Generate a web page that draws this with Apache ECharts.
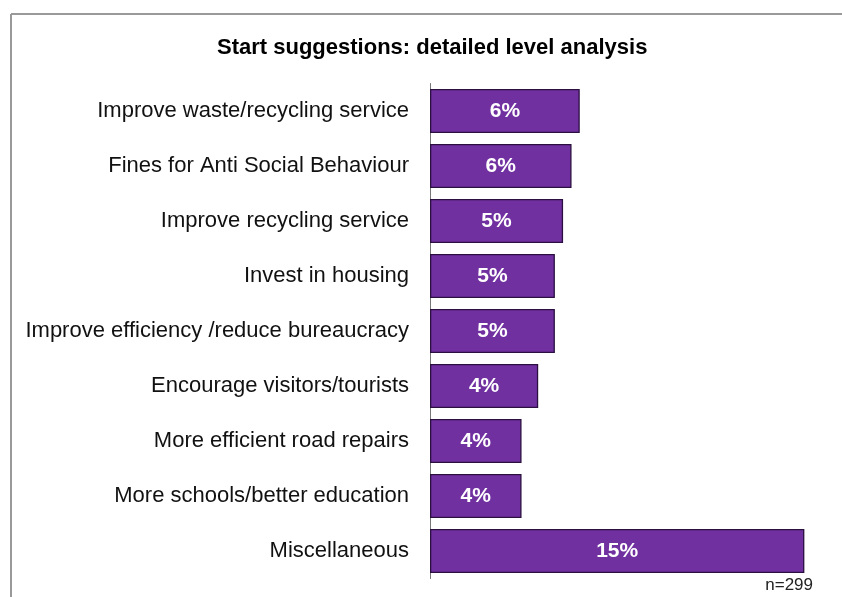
<!DOCTYPE html>
<html><head><meta charset="utf-8">
<script src="https://cdn.jsdelivr.net/npm/echarts@6/dist/echarts.min.js"></script>
<style>html,body{margin:0;padding:0;background:#fff}#c{width:842px;height:597px}</style>
</head><body><div id="c"></div>
<script>
const categories = ["Improve waste/recycling service","Fines for Anti Social Behaviour","Improve recycling service","Invest in housing","Improve efficiency /reduce bureaucracy","Encourage visitors/tourists","More efficient road repairs","More schools/better education","Miscellaneous"];
const values = [6.02, 5.69, 5.35, 5.02, 5.02, 4.35, 3.68, 3.68, 15.05];
const valueLabels = ["6%","6%","5%","5%","5%","4%","4%","4%","15%"];
const titleText = "Start suggestions: detailed level analysis";
const noteText = "n=299";

const chart = echarts.init(document.getElementById('c'), null, {renderer:'canvas'});
chart.setOption({
  animation:false,
  title:{text:titleText,left:212,top:32,textStyle:{fontFamily:'Liberation Sans',fontSize:22,fontWeight:'bold',color:'#000'}},
  grid:{left:430,right:14,top:83.5,bottom:18.5,containLabel:false},
  xAxis:{type:'value',min:0,max:16,show:false},
  yAxis:{type:'category',data:categories,inverse:true,
    axisLine:{show:true,lineStyle:{color:'#777',width:1}},axisTick:{show:false},
    axisLabel:{fontFamily:'Liberation Sans',fontSize:22,color:'#111',margin:21}},
  series:[{type:'bar',data:values,barWidth:44,
    itemStyle:{color:'#7030A0',borderColor:'#2b0f40',borderWidth:1.3},
    label:{show:true,position:'inside',formatter:p=>valueLabels[p.dataIndex],
      fontFamily:'Liberation Sans',fontSize:21,fontWeight:'bold',color:'#fff'}}],
  graphic:[
    {type:'line',shape:{x1:11,y1:14,x2:842,y2:14},style:{stroke:'#999',lineWidth:2}},
    {type:'line',shape:{x1:11,y1:14,x2:11,y2:597},style:{stroke:'#999',lineWidth:2}},
    {type:'text',right:29,top:577,style:{text:noteText,fontFamily:'Liberation Sans',fontSize:17,fill:'#222'}}
  ]
});
</script></body></html>
